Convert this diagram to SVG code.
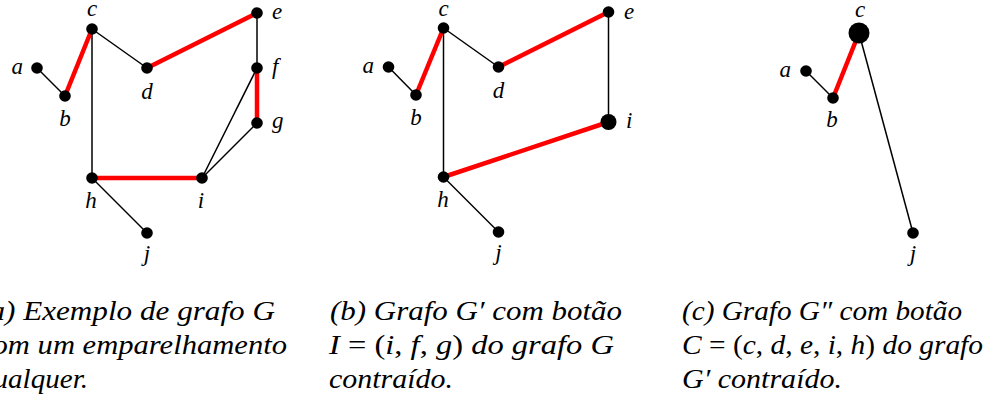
<svg xmlns="http://www.w3.org/2000/svg" width="1003" height="405" viewBox="0 0 1003 405">
<style>
.e{stroke:#000;stroke-width:1.5;fill:none}
.m{stroke:#ff0000;stroke-width:4.5;fill:none}
.n{fill:#000}
.l{font-family:'Liberation Serif',serif;font-style:italic;font-size:23px;fill:#000}
.cap{font-family:'Liberation Serif',serif;font-style:italic;font-size:27px;fill:#000}
.u{font-style:normal}
</style>
<rect width="1003" height="405" fill="#fff"/>
<g id="connectors">
<line class="e" x1="37" y1="68" x2="65" y2="96"/>
<line class="e" x1="92" y1="29" x2="147" y2="68"/>
<line class="e" x1="92" y1="29" x2="92" y2="178"/>
<line class="e" x1="257" y1="13" x2="257" y2="68"/>
<line class="e" x1="257" y1="68" x2="202" y2="178"/>
<line class="e" x1="257" y1="123" x2="202" y2="178"/>
<line class="e" x1="92" y1="178" x2="147" y2="233"/>
<line class="m" x1="65" y1="96" x2="92" y2="29"/>
<line class="m" x1="147" y1="68" x2="257" y2="13"/>
<line class="m" x1="257" y1="68" x2="257" y2="123"/>
<line class="m" x1="92" y1="178" x2="202" y2="178"/>
<line class="e" x1="388.5" y1="67" x2="416" y2="95"/>
<line class="e" x1="443.5" y1="28" x2="498.5" y2="67"/>
<line class="e" x1="443.5" y1="28" x2="443.5" y2="177"/>
<line class="e" x1="608.5" y1="12" x2="608.5" y2="122"/>
<line class="e" x1="443.5" y1="177" x2="498.5" y2="232"/>
<line class="m" x1="416" y1="95" x2="443.5" y2="28"/>
<line class="m" x1="498.5" y1="67" x2="608.5" y2="12"/>
<line class="m" x1="443.5" y1="177" x2="608.5" y2="122"/>
<line class="e" x1="806" y1="71" x2="833" y2="98"/>
<line class="e" x1="859" y1="33" x2="913" y2="233"/>
<line class="m" x1="833" y1="98" x2="859" y2="33"/>
</g>
<g id="a1"><circle class="n" cx="37" cy="68" r="5.8"/><text class="l" x="23" y="74" text-anchor="end">a</text></g>
<g id="b1"><circle class="n" cx="65" cy="96" r="5.8"/><text class="l" x="65" y="126" text-anchor="middle">b</text></g>
<g id="c1"><circle class="n" cx="92" cy="29" r="5.8"/><text class="l" x="92" y="16" text-anchor="middle">c</text></g>
<g id="d1"><circle class="n" cx="147" cy="68" r="5.8"/><text class="l" x="147" y="99" text-anchor="middle">d</text></g>
<g id="e1"><circle class="n" cx="257" cy="13" r="5.8"/><text class="l" x="272" y="19">e</text></g>
<g id="f1"><circle class="n" cx="257" cy="68" r="5.8"/><text class="l" x="272" y="74">f</text></g>
<g id="g1"><circle class="n" cx="257" cy="123" r="5.8"/><text class="l" x="272" y="128">g</text></g>
<g id="h1"><circle class="n" cx="92" cy="178" r="5.8"/><text class="l" x="91" y="208" text-anchor="middle">h</text></g>
<g id="i1"><circle class="n" cx="202" cy="178" r="5.8"/><text class="l" x="201" y="208" text-anchor="middle">i</text></g>
<g id="j1"><circle class="n" cx="147" cy="233" r="5.8"/><text class="l" x="147" y="261" text-anchor="middle">j</text></g>
<g id="a2"><circle class="n" cx="388.5" cy="67" r="5.8"/><text class="l" x="374" y="73" text-anchor="end">a</text></g>
<g id="b2"><circle class="n" cx="416" cy="95" r="5.8"/><text class="l" x="416" y="125" text-anchor="middle">b</text></g>
<g id="c2"><circle class="n" cx="443.5" cy="28" r="5.8"/><text class="l" x="443.5" y="16" text-anchor="middle">c</text></g>
<g id="d2"><circle class="n" cx="498.5" cy="67" r="5.8"/><text class="l" x="498.5" y="98" text-anchor="middle">d</text></g>
<g id="e2"><circle class="n" cx="608.5" cy="12" r="5.8"/><text class="l" x="624" y="19">e</text></g>
<g id="i2"><circle class="n" cx="608.5" cy="122" r="8"/><text class="l" x="626" y="128">i</text></g>
<g id="h2"><circle class="n" cx="443.5" cy="177" r="5.8"/><text class="l" x="443" y="207" text-anchor="middle">h</text></g>
<g id="j2"><circle class="n" cx="498.5" cy="232" r="5.8"/><text class="l" x="498.5" y="260" text-anchor="middle">j</text></g>
<g id="a3"><circle class="n" cx="806" cy="71" r="5.8"/><text class="l" x="791" y="77" text-anchor="end">a</text></g>
<g id="b3"><circle class="n" cx="833" cy="98" r="5.8"/><text class="l" x="832" y="127" text-anchor="middle">b</text></g>
<g id="c3"><circle class="n" cx="859" cy="33" r="10.5"/><text class="l" x="860" y="17" text-anchor="middle">c</text></g>
<g id="j3"><circle class="n" cx="913" cy="233" r="5.8"/><text class="l" x="913" y="261" text-anchor="middle">j</text></g>
<g id="caption-a">
<text class="cap" x="-21" y="320" textLength="296" lengthAdjust="spacingAndGlyphs">(a) Exemplo de grafo G</text>
<text class="cap" x="-21" y="354" textLength="308" lengthAdjust="spacingAndGlyphs">com um emparelhamento</text>
<text class="cap" x="-21" y="388" textLength="109" lengthAdjust="spacingAndGlyphs">qualquer.</text>
</g>
<g id="caption-b">
<text class="cap" x="330" y="320" textLength="292" lengthAdjust="spacingAndGlyphs">(b) Grafo G′ com botão</text>
<text class="cap" x="329" y="354" textLength="285" lengthAdjust="spacingAndGlyphs">I <tspan class="u">= (</tspan>i<tspan class="u">,</tspan> f<tspan class="u">,</tspan> g<tspan class="u">)</tspan> do grafo G</text>
<text class="cap" x="329" y="388" textLength="124" lengthAdjust="spacingAndGlyphs">contraído.</text>
</g>
<g id="caption-c">
<text class="cap" x="682" y="320" textLength="280" lengthAdjust="spacingAndGlyphs">(c) Grafo G″ com botão</text>
<text class="cap" x="682" y="354" textLength="301" lengthAdjust="spacingAndGlyphs">C <tspan class="u">= (</tspan>c<tspan class="u">,</tspan> d<tspan class="u">,</tspan> e<tspan class="u">,</tspan> i<tspan class="u">,</tspan> h<tspan class="u">)</tspan> do grafo</text>
<text class="cap" x="682" y="388" textLength="160" lengthAdjust="spacingAndGlyphs">G′ contraído.</text>
</g>
</svg>
